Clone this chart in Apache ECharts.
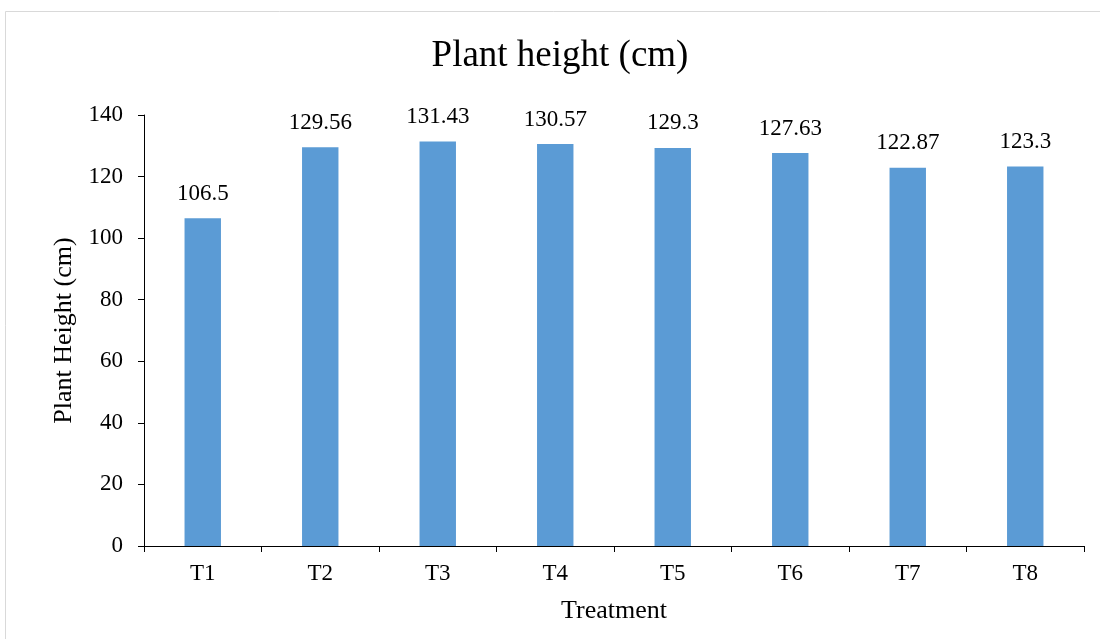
<!DOCTYPE html>
<html><head><meta charset="utf-8">
<script src="https://cdn.jsdelivr.net/npm/echarts@6/dist/echarts.min.js"></script>
<style>html,body{margin:0;padding:0;background:#fff}#c{width:1100px;height:639px}</style>
</head><body><div id="c"></div>
<script>
const categories = ['T1','T2','T3','T4','T5','T6','T7','T8'];
const heights = [106.5, 129.56, 131.43, 130.57, 129.3, 127.63, 122.87, 123.3];
const heightLabels = ['106.5','129.56','131.43','130.57','129.3','127.63','122.87','123.3'];
const yTicks = {min: 0, max: 140, interval: 20};

const F = '"Liberation Serif", "Times New Roman", serif';
const chart = echarts.init(document.getElementById('c'), null, {renderer: 'canvas'});
chart.setOption({
  animation: false,
  backgroundColor: '#fff',
  graphic: [{type: 'rect', shape: {x: 5.5, y: 11.5, width: 1200, height: 700}, style: {fill: 'none', stroke: '#d9d9d9', lineWidth: 1}}],
  title: {text: 'Plant height (cm)', left: 555, top: 33, textAlign: 'center',
    textStyle: {fontFamily: F, fontSize: 37, fontWeight: 'normal', color: '#000'}},
  grid: {left: 144, right: 16, top: 115, bottom: 93, containLabel: false},
  xAxis: {type: 'category', data: categories,
    name: 'Treatment', nameLocation: 'middle', nameGap: 52,
    nameTextStyle: {fontFamily: F, fontSize: 26, color: '#000'},
    axisLine: {lineStyle: {color: '#000', width: 1}},
    axisTick: {show: true, length: 6, lineStyle: {color: '#000'}, alignWithLabel: false},
    axisLabel: {fontFamily: F, fontSize: 23, color: '#000', margin: 16}},
  yAxis: {type: 'value', min: yTicks.min, max: yTicks.max, interval: yTicks.interval,
    name: 'Plant Height (cm)', nameLocation: 'middle', nameGap: 63,
    nameTextStyle: {fontFamily: F, fontSize: 26, color: '#000'},
    axisLine: {show: true, lineStyle: {color: '#000', width: 1}},
    axisTick: {show: true, length: 6, lineStyle: {color: '#000'}},
    splitLine: {show: false},
    axisLabel: {fontFamily: F, fontSize: 23, color: '#000', margin: 21}},
  series: [{type: 'bar', data: heights, barWidth: '31%',
    itemStyle: {color: '#5B9BD5'},
    label: {show: true, position: 'top', distance: 13, fontFamily: F, fontSize: 23, color: '#000',
      formatter: p => heightLabels[p.dataIndex]}}]
});
</script></body></html>
